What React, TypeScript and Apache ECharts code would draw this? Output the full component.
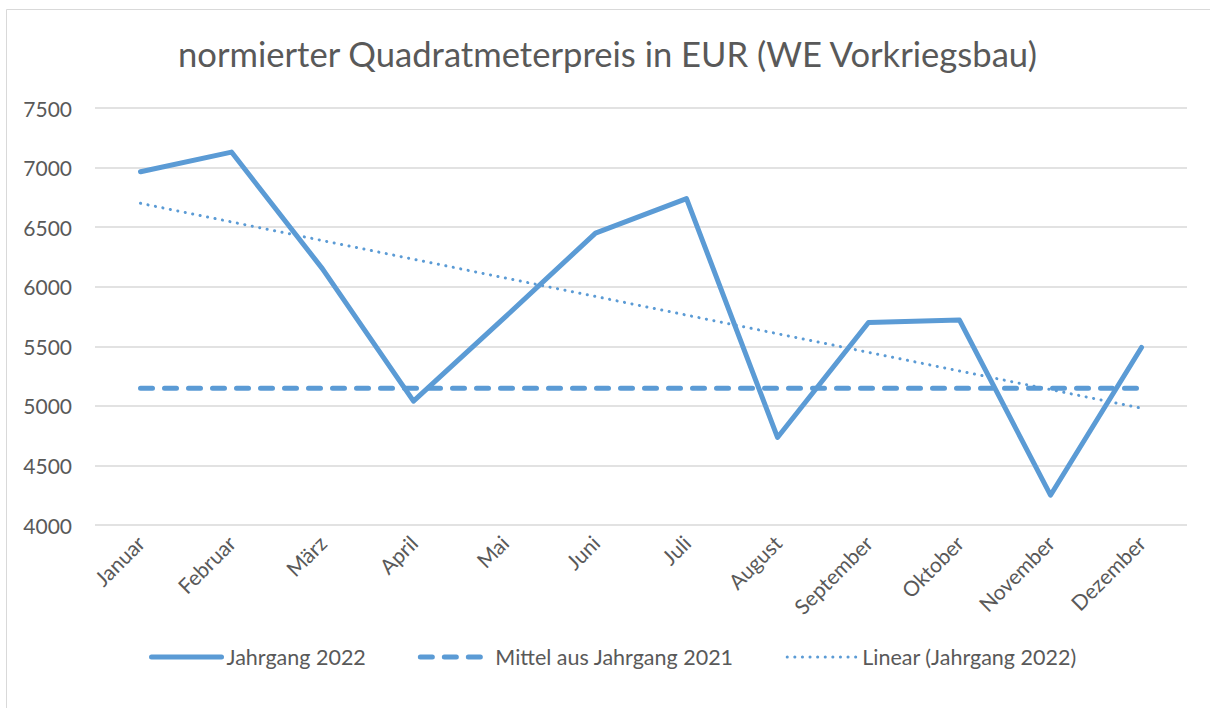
import React, { useEffect, useRef } from "react";
import * as echarts from "echarts";

const TITLE = "normierter Quadratmeterpreis in EUR (WE Vorkriegsbau)";
const months = ["Januar", "Februar", "März", "April", "Mai", "Juni", "Juli", "August", "September", "Oktober", "November", "Dezember"];
const jahrgang2022 = [6965, 7130, 6150, 5040, 5740, 6450, 6740, 4735, 5700, 5720, 4250, 5490];
const mittel2021 = [5147, 5147, 5147, 5147, 5147, 5147, 5147, 5147, 5147, 5147, 5147, 5147];
const linearTrend = [6700, null, null, null, null, null, null, null, null, null, null, 4980];
const yTicks = { min: 4000, max: 7500, interval: 500 };
const legendNames = ["Jahrgang 2022", "Mittel aus Jahrgang 2021", "Linear (Jahrgang 2022)"];

const FONT = "Lato, 'Open Sans', sans-serif";
const TEXT = "#595959";
const BLUE = "#5b9bd5";

export default function App() {
  const ref = useRef<HTMLDivElement>(null);
  useEffect(() => {
    if (!ref.current) return;
    const chart = echarts.init(ref.current, undefined, { renderer: "svg" });
    chart.setOption({
      animation: false,
      backgroundColor: "#ffffff",
      textStyle: { fontFamily: FONT, color: TEXT },
      graphic: [
        {
          type: "rect",
          shape: { x: 6.5, y: 9.5, width: 1300, height: 800 },
          style: { fill: "none", stroke: "#d9d9d9", lineWidth: 1 },
          silent: true,
        },
      ],
      title: {
        text: TITLE,
        left: 173,
        top: 31,
        textStyle: { fontFamily: FONT, fontSize: 34.6, fontWeight: "normal", color: TEXT },
      },
      grid: { left: 95, right: 23, top: 108, bottom: 183, containLabel: false },
      xAxis: {
        type: "category",
        data: months,
        boundaryGap: true,
        axisLine: { show: false },
        axisTick: { show: false },
        axisLabel: { rotate: 45, margin: 14, fontSize: 21, color: TEXT, fontFamily: FONT, interval: 0 },
      },
      yAxis: {
        type: "value",
        min: yTicks.min,
        max: yTicks.max,
        interval: yTicks.interval,
        axisLine: { show: false },
        axisTick: { show: false },
        axisLabel: { margin: 23, fontSize: 21, color: TEXT, fontFamily: FONT, formatter: (v: number) => String(v) },
        splitLine: { lineStyle: { color: "#d9d9d9", width: 1.5 } },
      },
      legend: {
        left: 144,
        top: 641,
        itemWidth: 70,
        itemHeight: 14,
        itemGap: 52,
        itemStyle: { opacity: 0 },
        textStyle: { fontSize: 21.5, color: TEXT, fontFamily: FONT },
        data: [
          { name: legendNames[0], lineStyle: { width: 5, color: BLUE, cap: "round" } },
          { name: legendNames[1], lineStyle: { width: 5, color: BLUE, type: [12, 12], cap: "round" } },
          { name: legendNames[2], lineStyle: { width: 3, color: BLUE, type: [0.1, 7.5], cap: "round" } },
        ],
      },
      series: [
        {
          name: legendNames[0],
          type: "line",
          data: jahrgang2022,
          symbol: "none",
          color: BLUE,
          lineStyle: { color: BLUE, width: 5, cap: "round", join: "round" },
          z: 3,
        },
        {
          name: legendNames[1],
          type: "line",
          data: mittel2021,
          symbol: "none",
          color: BLUE,
          lineStyle: { color: BLUE, width: 5, type: [12, 12], cap: "round" },
          z: 2,
        },
        {
          name: legendNames[2],
          type: "line",
          data: linearTrend,
          connectNulls: true,
          symbol: "none",
          color: BLUE,
          lineStyle: { color: BLUE, width: 3, type: [0.1, 7.5], cap: "round" },
          z: 1,
        },
      ],
    });
    return () => chart.dispose();
  }, []);
  return <div ref={ref} style={{ position: "fixed", left: 0, top: 0, width: 1210, height: 708 }} />;
}
